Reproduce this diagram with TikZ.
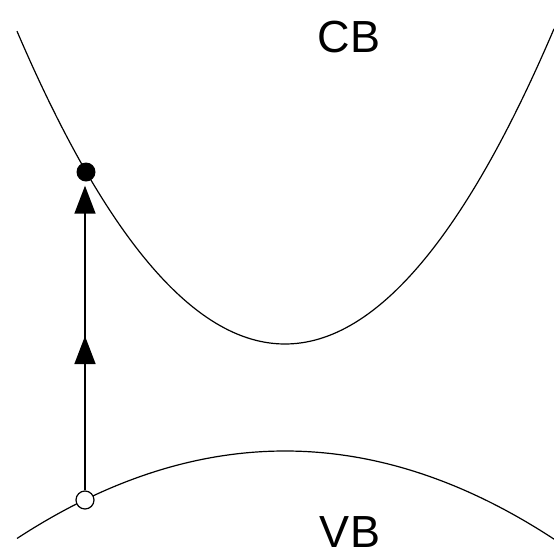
\documentclass[tikz,border=0pt]{standalone}
\usepackage{fontspec}
\setmainfont{Liberation Sans}
\usetikzlibrary{arrows.meta, decorations.markings}

\begin{document}
\begin{tikzpicture}[
    x=1pt, y=-1pt,
    band/.style={line width=1.2pt},
    electron/.style={circle, fill=black, inner sep=0pt, minimum size=19pt},
    hole/.style={circle, draw, line width=1.2pt, fill=white, inner sep=0pt, minimum size=18pt},
    bandname/.style={font=\fontsize{45}{54}\selectfont, inner sep=0pt},
    arrow/.style={line width=1.6pt, -{Triangle[length=28pt, width=21pt]}, shorten >=4pt,
                  decoration={markings, mark=at position 0.5 with {\arrow{Triangle[length=28pt, width=21pt]}}},
                  postaction={decorate}}
]
    \useasboundingbox (0,0) rectangle (554,558);
    % conduction and valence bands
    \draw[band] plot[domain=17:554, samples=120] (\x, {344-(0.066*(\x-285))^2});
    \draw[band] plot[domain=17:554, samples=120] (\x, {451+(0.0349*(\x-285))^2});
    \node[bandname] (cb) at (349,37) {CB};
    \node[bandname] (vb) at (350,532) {VB};
    % excited electron and hole left behind
    \node[electron] (elec) at (86,172) {};
    \node[hole] (hole) at (85,500) {};
    \draw[arrow] (hole) -- (hole |- elec.south);
\end{tikzpicture}
\end{document}
